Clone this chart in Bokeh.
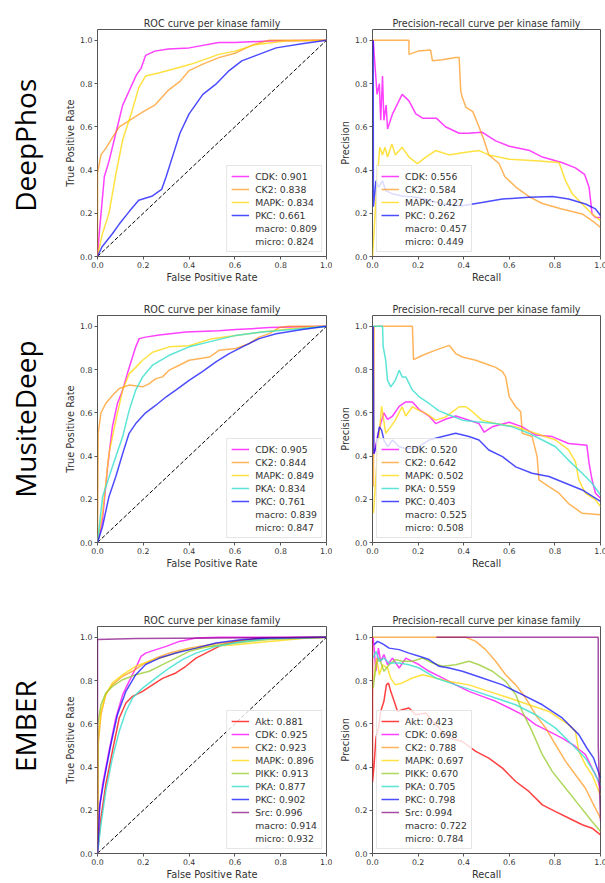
import math
from bokeh.plotting import figure
from bokeh.models import Range1d, FixedTicker, PrintfTickFormatter, Legend, LegendItem
from bokeh.layouts import row, column
from bokeh.embed import file_html
from bokeh.resources import INLINE
from bokeh.core.properties import value

# ---------------- data ----------------
METHODS = ["DeepPhos", "MusiteDeep", "EMBER"]
TICKS = [0.0, 0.2, 0.4, 0.6, 0.8, 1.0]

# DeepPhos ROC
DP_ROC_FAMILIES = ["CDK", "CK2", "MAPK", "PKC"]
DP_ROC_AUC = [0.901, 0.838, 0.834, 0.661]
DP_ROC_MACRO, DP_ROC_MICRO = 0.809, 0.824
DP_ROC_CDK_X = [0, 0.007, 0.03, 0.05, 0.08, 0.11, 0.14, 0.17, 0.19, 0.21, 0.25, 0.31, 0.40, 0.53, 0.60, 0.75, 1.0]
DP_ROC_CDK_Y = [0, 0.10, 0.37, 0.44, 0.57, 0.70, 0.77, 0.84, 0.87, 0.93, 0.95, 0.96, 0.965, 0.99, 0.99, 0.997, 1.0]
DP_ROC_CK2_X = [0, 0, 0.015, 0.036, 0.065, 0.095, 0.14, 0.20, 0.25, 0.31, 0.36, 0.40, 0.46, 0.53, 0.60, 0.68, 0.75, 1.0]
DP_ROC_CK2_Y = [0, 0.385, 0.47, 0.50, 0.55, 0.60, 0.63, 0.67, 0.70, 0.77, 0.81, 0.86, 0.89, 0.92, 0.94, 0.98, 1.0, 1.0]
DP_ROC_MAPK_X = [0, 0.02, 0.05, 0.08, 0.11, 0.15, 0.18, 0.21, 0.27, 0.34, 0.41, 0.53, 0.60, 0.69, 0.82, 1.0]
DP_ROC_MAPK_Y = [0, 0.10, 0.20, 0.38, 0.54, 0.67, 0.78, 0.835, 0.85, 0.87, 0.89, 0.935, 0.95, 0.98, 0.997, 1.0]
DP_ROC_PKC_X = [0, 0.02, 0.065, 0.095, 0.14, 0.18, 0.24, 0.28, 0.30, 0.33, 0.36, 0.40, 0.46, 0.52, 0.575, 0.63, 0.705, 0.78, 0.90, 1.0]
DP_ROC_PKC_Y = [0, 0.045, 0.105, 0.15, 0.21, 0.26, 0.28, 0.31, 0.37, 0.47, 0.57, 0.66, 0.75, 0.80, 0.86, 0.905, 0.935, 0.965, 0.985, 1.0]

# DeepPhos PR
DP_PR_FAMILIES = ["CDK", "CK2", "MAPK", "PKC"]
DP_PR_AP = [0.556, 0.584, 0.427, 0.262]
DP_PR_MACRO, DP_PR_MICRO = 0.457, 0.449
DP_PR_CDK_X = [0.003, 0.02, 0.03, 0.036, 0.044, 0.05, 0.06, 0.066, 0.088, 0.13, 0.16, 0.19, 0.22, 0.28, 0.32, 0.38, 0.42, 0.48, 0.54, 0.60, 0.69, 0.745, 0.83, 0.89, 0.93, 0.95, 0.963, 0.978, 1.0]
DP_PR_CDK_Y = [1.0, 0.75, 0.80, 0.63, 0.835, 0.63, 0.70, 0.59, 0.66, 0.75, 0.72, 0.66, 0.64, 0.64, 0.60, 0.57, 0.57, 0.575, 0.535, 0.51, 0.49, 0.46, 0.435, 0.41, 0.38, 0.32, 0.197, 0.18, 0.18]
DP_PR_CK2_X = [0, 0.16, 0.16, 0.20, 0.255, 0.263, 0.306, 0.365, 0.38, 0.387, 0.394, 0.41, 0.44, 0.467, 0.49, 0.51, 0.555, 0.58, 0.63, 0.69, 0.745, 0.83, 0.92, 0.978, 1.0]
DP_PR_CK2_Y = [1.0, 1.0, 0.935, 0.95, 0.955, 0.905, 0.91, 0.92, 0.92, 0.766, 0.735, 0.69, 0.67, 0.60, 0.535, 0.47, 0.43, 0.37, 0.32, 0.275, 0.245, 0.22, 0.197, 0.154, 0.135]
DP_PR_MAPK_X = [0.0, 0.022, 0.032, 0.044, 0.055, 0.066, 0.085, 0.10, 0.13, 0.16, 0.197, 0.234, 0.277, 0.336, 0.394, 0.467, 0.51, 0.60, 0.715, 0.818, 0.847, 0.876, 0.92, 0.963, 1.0]
DP_PR_MAPK_Y = [0.0, 0.38, 0.505, 0.47, 0.505, 0.46, 0.52, 0.47, 0.505, 0.46, 0.43, 0.46, 0.49, 0.47, 0.48, 0.49, 0.47, 0.45, 0.443, 0.435, 0.35, 0.29, 0.243, 0.197, 0.166]
DP_PR_PKC_X = [0.003, 0.004, 0.015, 0.026, 0.044, 0.058, 0.088, 0.13, 0.19, 0.25, 0.306, 0.394, 0.48, 0.57, 0.686, 0.79, 0.86, 0.934, 0.978, 1.0]
DP_PR_PKC_Y = [1.0, 0.23, 0.35, 0.32, 0.35, 0.305, 0.29, 0.28, 0.274, 0.26, 0.243, 0.235, 0.25, 0.266, 0.274, 0.277, 0.266, 0.243, 0.22, 0.19]

# MusiteDeep ROC
MD_ROC_FAMILIES = ["CDK", "CK2", "MAPK", "PKA", "PKC"]
MD_ROC_AUC = [0.905, 0.844, 0.849, 0.834, 0.761]
MD_ROC_MACRO, MD_ROC_MICRO = 0.839, 0.847
MD_ROC_CDK_X = [0, 0.022, 0.044, 0.065, 0.087, 0.11, 0.13, 0.146, 0.167, 0.182, 0.21, 0.27, 0.385, 0.53, 0.604, 0.75, 1.0]
MD_ROC_CDK_Y = [0, 0.105, 0.35, 0.535, 0.643, 0.705, 0.78, 0.835, 0.905, 0.943, 0.95, 0.96, 0.974, 0.98, 0.985, 0.994, 1.0]
MD_ROC_CK2_X = [0, 0.003, 0.015, 0.036, 0.065, 0.095, 0.138, 0.197, 0.226, 0.255, 0.284, 0.313, 0.357, 0.40, 0.49, 0.53, 0.604, 0.662, 0.706, 0.75, 0.793, 0.837, 1.0]
MD_ROC_CK2_Y = [0, 0.505, 0.60, 0.643, 0.68, 0.712, 0.728, 0.72, 0.735, 0.758, 0.766, 0.797, 0.82, 0.843, 0.858, 0.889, 0.897, 0.92, 0.95, 0.966, 0.994, 1.0, 1.0]
MD_ROC_MAPK_X = [0, 0.022, 0.05, 0.08, 0.11, 0.138, 0.167, 0.197, 0.24, 0.313, 0.40, 0.50, 0.604, 0.72, 0.85, 1.0]
MD_ROC_MAPK_Y = [0, 0.135, 0.41, 0.566, 0.705, 0.78, 0.81, 0.843, 0.88, 0.905, 0.91, 0.943, 0.958, 0.974, 0.99, 1.0]
MD_ROC_PKA_X = [0, 0.022, 0.065, 0.11, 0.138, 0.167, 0.197, 0.24, 0.313, 0.40, 0.488, 0.604, 0.72, 0.85, 1.0]
MD_ROC_PKA_Y = [0, 0.21, 0.35, 0.49, 0.61, 0.705, 0.766, 0.82, 0.866, 0.905, 0.928, 0.958, 0.974, 0.985, 1.0]
MD_ROC_PKC_X = [0, 0.022, 0.05, 0.08, 0.11, 0.138, 0.167, 0.21, 0.255, 0.30, 0.342, 0.40, 0.458, 0.517, 0.575, 0.633, 0.706, 0.78, 0.895, 1.0]
MD_ROC_PKC_Y = [0, 0.074, 0.212, 0.305, 0.412, 0.505, 0.55, 0.60, 0.635, 0.674, 0.705, 0.75, 0.79, 0.835, 0.874, 0.905, 0.943, 0.966, 0.985, 1.0]

# MusiteDeep PR
MD_PR_FAMILIES = ["CDK", "CK2", "MAPK", "PKA", "PKC"]
MD_PR_AP = [0.520, 0.642, 0.502, 0.559, 0.403]
MD_PR_MACRO, MD_PR_MICRO = 0.525, 0.508
MD_PR_CDK_X = [0.007, 0.022, 0.036, 0.05, 0.066, 0.088, 0.117, 0.146, 0.175, 0.205, 0.248, 0.277, 0.32, 0.365, 0.41, 0.467, 0.49, 0.525, 0.60, 0.657, 0.715, 0.788, 0.86, 0.94, 0.95, 0.963, 0.978, 1.0]
MD_PR_CDK_Y = [0.41, 0.49, 0.55, 0.60, 0.57, 0.585, 0.63, 0.65, 0.65, 0.615, 0.585, 0.55, 0.57, 0.585, 0.57, 0.55, 0.51, 0.535, 0.556, 0.535, 0.497, 0.49, 0.458, 0.45, 0.366, 0.29, 0.228, 0.205]
MD_PR_CK2_X = [0.004, 0.007, 0.175, 0.18, 0.22, 0.277, 0.336, 0.365, 0.394, 0.453, 0.496, 0.54, 0.57, 0.584, 0.60, 0.628, 0.65, 0.657, 0.70, 0.722, 0.73, 0.774, 0.818, 0.86, 0.92, 1.0]
MD_PR_CK2_Y = [0.258, 1.0, 1.0, 0.846, 0.866, 0.89, 0.912, 0.874, 0.858, 0.843, 0.827, 0.81, 0.79, 0.766, 0.674, 0.628, 0.605, 0.505, 0.49, 0.397, 0.29, 0.258, 0.228, 0.18, 0.135, 0.128]
MD_PR_MAPK_X = [0.004, 0.022, 0.04, 0.058, 0.08, 0.10, 0.13, 0.146, 0.175, 0.205, 0.234, 0.277, 0.32, 0.38, 0.41, 0.438, 0.48, 0.54, 0.628, 0.715, 0.803, 0.86, 0.89, 0.905, 0.934, 0.978, 1.0]
MD_PR_MAPK_Y = [0.135, 0.41, 0.63, 0.505, 0.535, 0.566, 0.628, 0.585, 0.628, 0.61, 0.597, 0.566, 0.58, 0.628, 0.628, 0.605, 0.566, 0.55, 0.535, 0.505, 0.474, 0.428, 0.374, 0.29, 0.228, 0.197, 0.166]
MD_PR_PKA_X = [0.004, 0.044, 0.047, 0.058, 0.066, 0.08, 0.10, 0.117, 0.13, 0.146, 0.175, 0.205, 0.248, 0.29, 0.336, 0.394, 0.453, 0.54, 0.613, 0.686, 0.745, 0.803, 0.86, 0.92, 0.963, 1.0]
MD_PR_PKA_Y = [1.0, 1.0, 0.905, 0.843, 0.75, 0.72, 0.75, 0.797, 0.766, 0.766, 0.705, 0.674, 0.643, 0.61, 0.59, 0.566, 0.558, 0.55, 0.535, 0.505, 0.474, 0.443, 0.38, 0.32, 0.274, 0.22]
MD_PR_PKC_X = [0.003, 0.006, 0.015, 0.03, 0.04, 0.05, 0.066, 0.088, 0.117, 0.146, 0.19, 0.248, 0.307, 0.365, 0.423, 0.467, 0.51, 0.57, 0.628, 0.70, 0.774, 0.847, 0.92, 1.0]
MD_PR_PKC_Y = [1.0, 0.41, 0.44, 0.535, 0.52, 0.474, 0.443, 0.474, 0.443, 0.435, 0.435, 0.474, 0.49, 0.505, 0.49, 0.474, 0.428, 0.397, 0.35, 0.32, 0.305, 0.274, 0.243, 0.19]

# EMBER ROC
EM_ROC_FAMILIES = ["Akt", "CDK", "CK2", "MAPK", "PIKK", "PKA", "PKC", "Src"]
EM_ROC_AUC = [0.881, 0.925, 0.923, 0.896, 0.913, 0.877, 0.902, 0.996]
EM_ROC_MACRO, EM_ROC_MICRO = 0.914, 0.932
EM_ROC_AKT_X = [0, 0.015, 0.036, 0.065, 0.095, 0.124, 0.153, 0.197, 0.24, 0.284, 0.342, 0.386, 0.43, 0.488, 0.546, 0.604, 0.72, 1.0]
EM_ROC_AKT_Y = [0, 0.164, 0.318, 0.472, 0.627, 0.696, 0.727, 0.75, 0.78, 0.81, 0.835, 0.866, 0.904, 0.935, 0.966, 0.981, 0.997, 1.0]
EM_ROC_CDK_X = [0, 0.007, 0.022, 0.05, 0.08, 0.11, 0.138, 0.167, 0.19, 0.21, 0.255, 0.30, 0.357, 0.43, 0.53, 1.0]
EM_ROC_CDK_Y = [0, 0.195, 0.318, 0.472, 0.627, 0.735, 0.796, 0.858, 0.912, 0.927, 0.943, 0.958, 0.981, 0.997, 1.0, 1.0]
EM_ROC_CK2_X = [0, 0.003, 0.015, 0.036, 0.065, 0.11, 0.153, 0.197, 0.255, 0.313, 0.40, 0.488, 0.604, 0.75, 1.0]
EM_ROC_CK2_Y = [0, 0.503, 0.642, 0.735, 0.78, 0.82, 0.843, 0.874, 0.904, 0.927, 0.95, 0.966, 0.981, 0.994, 1.0]
EM_ROC_MAPK_X = [0, 0.003, 0.015, 0.036, 0.065, 0.11, 0.167, 0.226, 0.30, 0.386, 0.488, 0.604, 0.75, 0.895, 1.0]
EM_ROC_MAPK_Y = [0, 0.534, 0.657, 0.735, 0.789, 0.827, 0.866, 0.89, 0.912, 0.943, 0.958, 0.966, 0.981, 0.994, 1.0]
EM_ROC_PIKK_X = [0, 0.001, 0.015, 0.036, 0.065, 0.11, 0.167, 0.226, 0.284, 0.342, 0.40, 0.488, 0.604, 0.75, 1.0]
EM_ROC_PIKK_Y = [0, 0.596, 0.688, 0.742, 0.773, 0.804, 0.827, 0.843, 0.874, 0.904, 0.935, 0.958, 0.974, 0.99, 1.0]
EM_ROC_PKA_X = [0, 0.015, 0.036, 0.065, 0.095, 0.124, 0.153, 0.197, 0.255, 0.313, 0.371, 0.43, 0.517, 0.633, 0.75, 1.0]
EM_ROC_PKA_Y = [0, 0.133, 0.287, 0.441, 0.565, 0.657, 0.719, 0.765, 0.812, 0.858, 0.897, 0.927, 0.958, 0.981, 0.994, 1.0]
EM_ROC_PKC_X = [0, 0.01, 0.03, 0.058, 0.087, 0.124, 0.167, 0.21, 0.27, 0.342, 0.43, 0.517, 0.633, 0.75, 1.0]
EM_ROC_PKC_Y = [0, 0.225, 0.349, 0.503, 0.642, 0.75, 0.827, 0.874, 0.904, 0.927, 0.95, 0.974, 0.99, 0.997, 1.0]
EM_ROC_SRC_X = [0, 0, 0.17, 1.0]
EM_ROC_SRC_Y = [0, 0.99, 0.995, 1.0]

# EMBER PR
EM_PR_FAMILIES = ["Akt", "CDK", "CK2", "MAPK", "PIKK", "PKA", "PKC", "Src"]
EM_PR_AP = [0.423, 0.698, 0.788, 0.697, 0.670, 0.705, 0.798, 0.994]
EM_PR_MACRO, EM_PR_MICRO = 0.722, 0.784
EM_PR_AKT_X = [0.0, 0.0, 0.007, 0.015, 0.026, 0.036, 0.05, 0.061, 0.07, 0.08, 0.095, 0.11, 0.13, 0.16, 0.19, 0.234, 0.277, 0.336, 0.394, 0.453, 0.51, 0.57, 0.628, 0.686, 0.745, 0.803, 0.86, 0.92, 0.963, 1.0]
EM_PR_AKT_Y = [1.0, 0.33, 0.41, 0.534, 0.58, 0.657, 0.704, 0.78, 0.789, 0.75, 0.704, 0.657, 0.665, 0.673, 0.642, 0.65, 0.596, 0.534, 0.518, 0.472, 0.441, 0.395, 0.333, 0.287, 0.225, 0.194, 0.164, 0.133, 0.117, 0.086]
EM_PR_CDK_X = [0.003, 0.015, 0.026, 0.036, 0.05, 0.066, 0.088, 0.117, 0.146, 0.175, 0.205, 0.248, 0.307, 0.365, 0.423, 0.482, 0.54, 0.60, 0.657, 0.715, 0.774, 0.832, 0.89, 0.934, 0.963, 0.985, 1.0]
EM_PR_CDK_Y = [1.0, 0.843, 0.95, 0.889, 0.92, 0.873, 0.904, 0.858, 0.904, 0.889, 0.873, 0.843, 0.812, 0.78, 0.75, 0.727, 0.704, 0.673, 0.642, 0.596, 0.565, 0.534, 0.495, 0.457, 0.395, 0.349, 0.302]
EM_PR_CK2_X = [0.0, 0.41, 0.453, 0.496, 0.54, 0.584, 0.628, 0.672, 0.715, 0.76, 0.803, 0.847, 0.89, 0.934, 0.97, 1.0]
EM_PR_CK2_Y = [1.0, 1.0, 0.981, 0.943, 0.889, 0.827, 0.78, 0.719, 0.642, 0.58, 0.503, 0.426, 0.364, 0.302, 0.225, 0.164]
EM_PR_MAPK_X = [0.007, 0.018, 0.03, 0.044, 0.066, 0.08, 0.10, 0.13, 0.175, 0.22, 0.277, 0.336, 0.423, 0.51, 0.60, 0.686, 0.774, 0.86, 0.89, 0.905, 0.934, 0.963, 1.0]
EM_PR_MAPK_Y = [0.81, 0.904, 0.827, 0.873, 0.858, 0.81, 0.78, 0.789, 0.812, 0.827, 0.812, 0.796, 0.78, 0.75, 0.719, 0.688, 0.657, 0.596, 0.565, 0.472, 0.41, 0.364, 0.27]
EM_PR_PIKK_X = [0.003, 0.015, 0.03, 0.05, 0.073, 0.10, 0.13, 0.175, 0.22, 0.263, 0.307, 0.365, 0.423, 0.467, 0.526, 0.584, 0.628, 0.657, 0.70, 0.745, 0.788, 0.847, 0.905, 0.963, 1.0]
EM_PR_PIKK_Y = [0.765, 0.873, 0.904, 0.843, 0.873, 0.897, 0.889, 0.889, 0.904, 0.881, 0.866, 0.873, 0.889, 0.873, 0.843, 0.796, 0.735, 0.657, 0.565, 0.457, 0.38, 0.302, 0.225, 0.148, 0.102]
EM_PR_PKA_X = [0.003, 0.015, 0.03, 0.05, 0.073, 0.117, 0.16, 0.205, 0.277, 0.365, 0.453, 0.54, 0.628, 0.715, 0.803, 0.876, 0.934, 0.97, 1.0]
EM_PR_PKA_Y = [0.904, 0.935, 0.889, 0.904, 0.881, 0.881, 0.873, 0.858, 0.812, 0.78, 0.75, 0.719, 0.688, 0.642, 0.58, 0.503, 0.441, 0.38, 0.318]
EM_PR_PKC_X = [0.007, 0.022, 0.036, 0.05, 0.073, 0.117, 0.16, 0.205, 0.248, 0.292, 0.336, 0.394, 0.482, 0.57, 0.657, 0.745, 0.832, 0.905, 0.94, 0.97, 0.985, 1.0]
EM_PR_PKC_Y = [0.966, 0.981, 0.974, 0.966, 0.95, 0.943, 0.927, 0.912, 0.897, 0.866, 0.858, 0.843, 0.812, 0.78, 0.735, 0.688, 0.627, 0.55, 0.488, 0.441, 0.395, 0.349]
EM_PR_SRC_X = [0.28, 0.99, 0.99, 1.0]
EM_PR_SRC_Y = [1.0, 1.0, 0.5, 0.15]

# ---------------- styles ----------------
COLORS = {"Akt": "red", "CDK": "magenta", "CK2": "darkorange", "MAPK": "gold",
          "PIKK": "yellowgreen", "PKA": "turquoise", "PKC": "blue", "Src": "purple"}
ALPHAS = {"Akt": 0.75, "CDK": 0.75, "CK2": 0.65, "MAPK": 0.75,
          "PIKK": 0.8, "PKA": 0.85, "PKC": 0.7, "Src": 0.7}
FONT = "DejaVu Sans"
TXT = "#333333"
FRAME_H = 227


def panel(kind, families, scores, macro, micro, xs_list, ys_list,
          frame_w, bl, br, bt, bb):
    is_roc = kind == "roc"
    p = figure(frame_width=frame_w, frame_height=FRAME_H,
               x_range=Range1d(0, 1), y_range=Range1d(0, 1.05),
               output_backend="svg", toolbar_location=None,
               min_border_left=bl, min_border_right=br,
               min_border_top=bt, min_border_bottom=bb,
               title="ROC curve per kinase family" if is_roc
               else "Precision-recall curve per kinase family")
    p.title.align = "center"
    p.title.text_font = FONT
    p.title.text_font_size = "9.6px"
    p.title.text_font_style = "normal"
    p.title.text_color = TXT
    p.title.standoff = 2
    p.grid.visible = False
    p.outline_line_color = "#555555"
    p.outline_line_width = 1
    p.background_fill_color = "white"
    for ax in (p.xaxis[0], p.yaxis[0]):
        ax.ticker = FixedTicker(ticks=TICKS)
        ax.formatter = PrintfTickFormatter(format="%.1f")
        ax.axis_line_color = None
        ax.major_tick_in = 0
        ax.major_tick_out = 3
        ax.major_tick_line_color = "#555555"
        ax.minor_tick_line_color = None
        ax.major_label_text_font = FONT
        ax.major_label_text_font_size = "7.8px"
        ax.major_label_text_color = TXT
        ax.major_label_standoff = 2
        ax.axis_label_text_font = FONT
        ax.axis_label_text_font_size = "9.8px"
        ax.axis_label_text_font_style = "normal"
        ax.axis_label_text_color = TXT
        ax.axis_label_standoff = 1
    p.xaxis[0].axis_label = "False Positive Rate" if is_roc else "Recall"
    p.yaxis[0].axis_label = "True Positive Rate" if is_roc else "Precision"

    if is_roc:
        p.line([0, 1], [0, 1], line_color="black", line_dash="4 2", line_width=1)

    items = []
    for fam, sc, xs, ys in zip(families, scores, xs_list, ys_list):
        r = p.line(xs, ys, line_color=COLORS[fam], line_alpha=ALPHAS[fam], line_width=1.5)
        items.append(LegendItem(label=f"{fam}: {sc:.3f}", renderers=[r]))
    for name, sc in (("macro", macro), ("micro", micro)):
        r = p.line([], [], line_alpha=0)
        items.append(LegendItem(label=f"{name}: {sc:.3f}", renderers=[r]))

    leg = Legend(items=items, location="bottom_right" if is_roc else "bottom_left",
                 margin=4, padding=4, spacing=1, label_height=12, glyph_height=12,
                 glyph_width=18, label_standoff=6,
                 label_text_font=FONT, label_text_font_size="9.3px", label_text_color=TXT,
                 background_fill_color="white", background_fill_alpha=0.8,
                 border_line_color="#cccccc", border_line_width=1)
    p.add_layout(leg, "center")
    return p


def name_fig(text, height, cy):
    f = figure(width=62, height=height, x_range=Range1d(0, 62), y_range=Range1d(0, height),
               x_axis_type=None, y_axis_type=None, min_border=0,
               output_backend="svg", toolbar_location=None)
    f.grid.visible = False
    f.outline_line_color = None
    f.text(x=[24], y=[height - cy], text=[text], angle=math.pi / 2,
           text_align="center", text_baseline="middle",
           text_font=value("Open Sans"), text_font_size="28px", text_color="black")
    return f


rows_spec = [
    (METHODS[0], 29, 38, 150,
     (DP_ROC_FAMILIES, DP_ROC_AUC, DP_ROC_MACRO, DP_ROC_MICRO,
      [DP_ROC_CDK_X, DP_ROC_CK2_X, DP_ROC_MAPK_X, DP_ROC_PKC_X],
      [DP_ROC_CDK_Y, DP_ROC_CK2_Y, DP_ROC_MAPK_Y, DP_ROC_PKC_Y]),
     (DP_PR_FAMILIES, DP_PR_AP, DP_PR_MACRO, DP_PR_MICRO,
      [DP_PR_CDK_X, DP_PR_CK2_X, DP_PR_MAPK_X, DP_PR_PKC_X],
      [DP_PR_CDK_Y, DP_PR_CK2_Y, DP_PR_MAPK_Y, DP_PR_PKC_Y])),
    (METHODS[1], 21, 63, 142,
     (MD_ROC_FAMILIES, MD_ROC_AUC, MD_ROC_MACRO, MD_ROC_MICRO,
      [MD_ROC_CDK_X, MD_ROC_CK2_X, MD_ROC_MAPK_X, MD_ROC_PKA_X, MD_ROC_PKC_X],
      [MD_ROC_CDK_Y, MD_ROC_CK2_Y, MD_ROC_MAPK_Y, MD_ROC_PKA_Y, MD_ROC_PKC_Y]),
     (MD_PR_FAMILIES, MD_PR_AP, MD_PR_MACRO, MD_PR_MICRO,
      [MD_PR_CDK_X, MD_PR_CK2_X, MD_PR_MAPK_X, MD_PR_PKA_X, MD_PR_PKC_X],
      [MD_PR_CDK_Y, MD_PR_CK2_Y, MD_PR_MAPK_Y, MD_PR_PKA_Y, MD_PR_PKC_Y])),
    (METHODS[2], 21, 30, 122,
     (EM_ROC_FAMILIES, EM_ROC_AUC, EM_ROC_MACRO, EM_ROC_MICRO,
      [EM_ROC_AKT_X, EM_ROC_CDK_X, EM_ROC_CK2_X, EM_ROC_MAPK_X, EM_ROC_PIKK_X, EM_ROC_PKA_X, EM_ROC_PKC_X, EM_ROC_SRC_X],
      [EM_ROC_AKT_Y, EM_ROC_CDK_Y, EM_ROC_CK2_Y, EM_ROC_MAPK_Y, EM_ROC_PIKK_Y, EM_ROC_PKA_Y, EM_ROC_PKC_Y, EM_ROC_SRC_Y]),
     (EM_PR_FAMILIES, EM_PR_AP, EM_PR_MACRO, EM_PR_MICRO,
      [EM_PR_AKT_X, EM_PR_CDK_X, EM_PR_CK2_X, EM_PR_MAPK_X, EM_PR_PIKK_X, EM_PR_PKA_X, EM_PR_PKC_X, EM_PR_SRC_X],
      [EM_PR_AKT_Y, EM_PR_CDK_Y, EM_PR_CK2_Y, EM_PR_MAPK_Y, EM_PR_PIKK_Y, EM_PR_PKA_Y, EM_PR_PKC_Y, EM_PR_SRC_Y])),
]

rows = []
for name, bt, bb, cy, roc, pr in rows_spec:
    h = bt + FRAME_H + bb
    lab = name_fig(name, h, cy)
    p1 = panel("roc", *roc, frame_w=229, bl=33, br=6, bt=bt, bb=bb)
    p2 = panel("pr", *pr, frame_w=228, bl=40, br=7, bt=bt, bb=bb)
    rows.append(row(lab, p1, p2))

layout = column(*rows)
open("out.html", "w").write(file_html(layout, INLINE))
